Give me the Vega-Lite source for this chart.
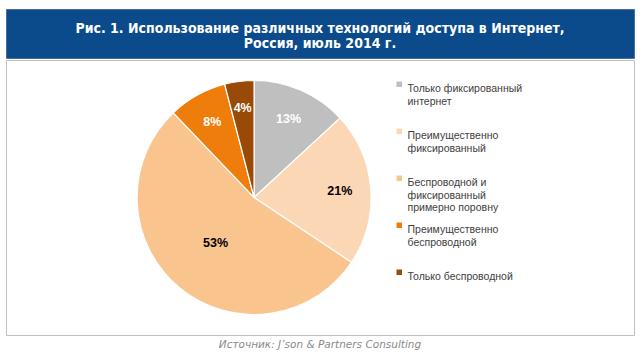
{
  "$schema": "https://vega.github.io/schema/vega-lite/v6.json",
  "background": "white",
  "padding": {"left": 5, "top": 8, "right": 0, "bottom": 0},
  "spacing": 0,
  "config": {"concat": {"spacing": 0}},
  "vconcat": [
    {
      "width": 628,
      "height": 49,
      "view": {"fill": "#0B4A8B", "stroke": "#4a6f9a"},
      "data": {"values": [{"t": 1}]},
      "mark": {"type": "text", "color": "white", "font": "DejaVu Sans Condensed", "fontWeight": "bold", "fontSize": 14, "align": "center", "baseline": "middle", "lineHeight": 15, "dy": -5},
      "encoding": {"text": {"value": ["Рис. 1. Использование различных технологий доступа в Интернет,", "Россия, июль 2014 г."]}}
    },
    {
      "width": 628,
      "height": 275,
      "view": {"stroke": "#c0c0c0", "fill": "white"},
      "data": {"values": [
        {"n": 1, "cat": "Только фиксированный интернет", "pct": 13},
        {"n": 2, "cat": "Преимущественно фиксированный", "pct": 21},
        {"n": 3, "cat": "Беспроводной и фиксированный примерно поровну", "pct": 53},
        {"n": 4, "cat": "Преимущественно беспроводной", "pct": 8},
        {"n": 5, "cat": "Только беспроводной", "pct": 4}
      ]},
      "encoding": {
        "theta": {"field": "pct", "type": "quantitative", "stack": true},
        "order": {"field": "n", "type": "quantitative"},
        "color": {
          "field": "cat", "type": "nominal",
          "scale": {
            "domain": ["Только фиксированный интернет", "Преимущественно фиксированный", "Беспроводной и фиксированный примерно поровну", "Преимущественно беспроводной", "Только беспроводной"],
            "range": ["#BFBFBF", "#FCD7B6", "#FAC48F", "#EE7D0C", "#9A4A07"]
          },
          "legend": {
            "title": null,
            "orient": "none",
            "legendX": 388,
            "legendY": 70,
            "symbolType": "square",
            "symbolSize": 30,
            "symbolStrokeWidth": 0,
            "labelFont": "Liberation Sans",
            "labelFontSize": 10.5,
            "labelColor": "#404040",
            "labelLimit": 300,
            "labelOffset": 3,
            "labelBaseline": "top",
            "gridAlign": "all",
            "rowPadding": 6,
            "labelExpr": "datum.label == 'Только фиксированный интернет' ? ['Только фиксированный', 'интернет'] : datum.label == 'Преимущественно фиксированный' ? ['Преимущественно', 'фиксированный'] : datum.label == 'Беспроводной и фиксированный примерно поровну' ? ['Беспроводной и', 'фиксированный', 'примерно поровну'] : datum.label == 'Преимущественно беспроводной' ? ['Преимущественно', 'беспроводной'] : datum.label"
          }
        }
      },
      "layer": [
        {
          "mark": {"type": "arc", "outerRadius": 117, "stroke": "white", "strokeWidth": 1.2, "x": {"expr": "width * 0.395"}}
        },
        {
          "mark": {"type": "text", "font": "Liberation Sans", "fontWeight": "bold", "fontSize": 12.5, "align": "center", "baseline": "middle", "x": {"expr": "width * 0.395"}, "text": {"expr": "datum.pct + '%'"}},
          "encoding": {
            "radius": {"value": {"expr": "datum.pct > 50 ? 60 : datum.pct < 5 ? 90 : 86"}},
            "color": {"condition": {"test": "datum.n == 1 || datum.n >= 4", "value": "white"}, "value": "black"}
          }
        }
      ]
    },
    {
      "width": 628,
      "height": 29,
      "view": {"stroke": null},
      "data": {"values": [{"src": "Источник: J’son & Partners Consulting"}]},
      "mark": {"type": "text", "font": "DejaVu Sans", "fontStyle": "italic", "fontSize": 10.5, "color": "#8a8a8a", "align": "center", "baseline": "middle", "dy": -6},
      "encoding": {"text": {"field": "src", "type": "nominal"}}
    }
  ]
}
